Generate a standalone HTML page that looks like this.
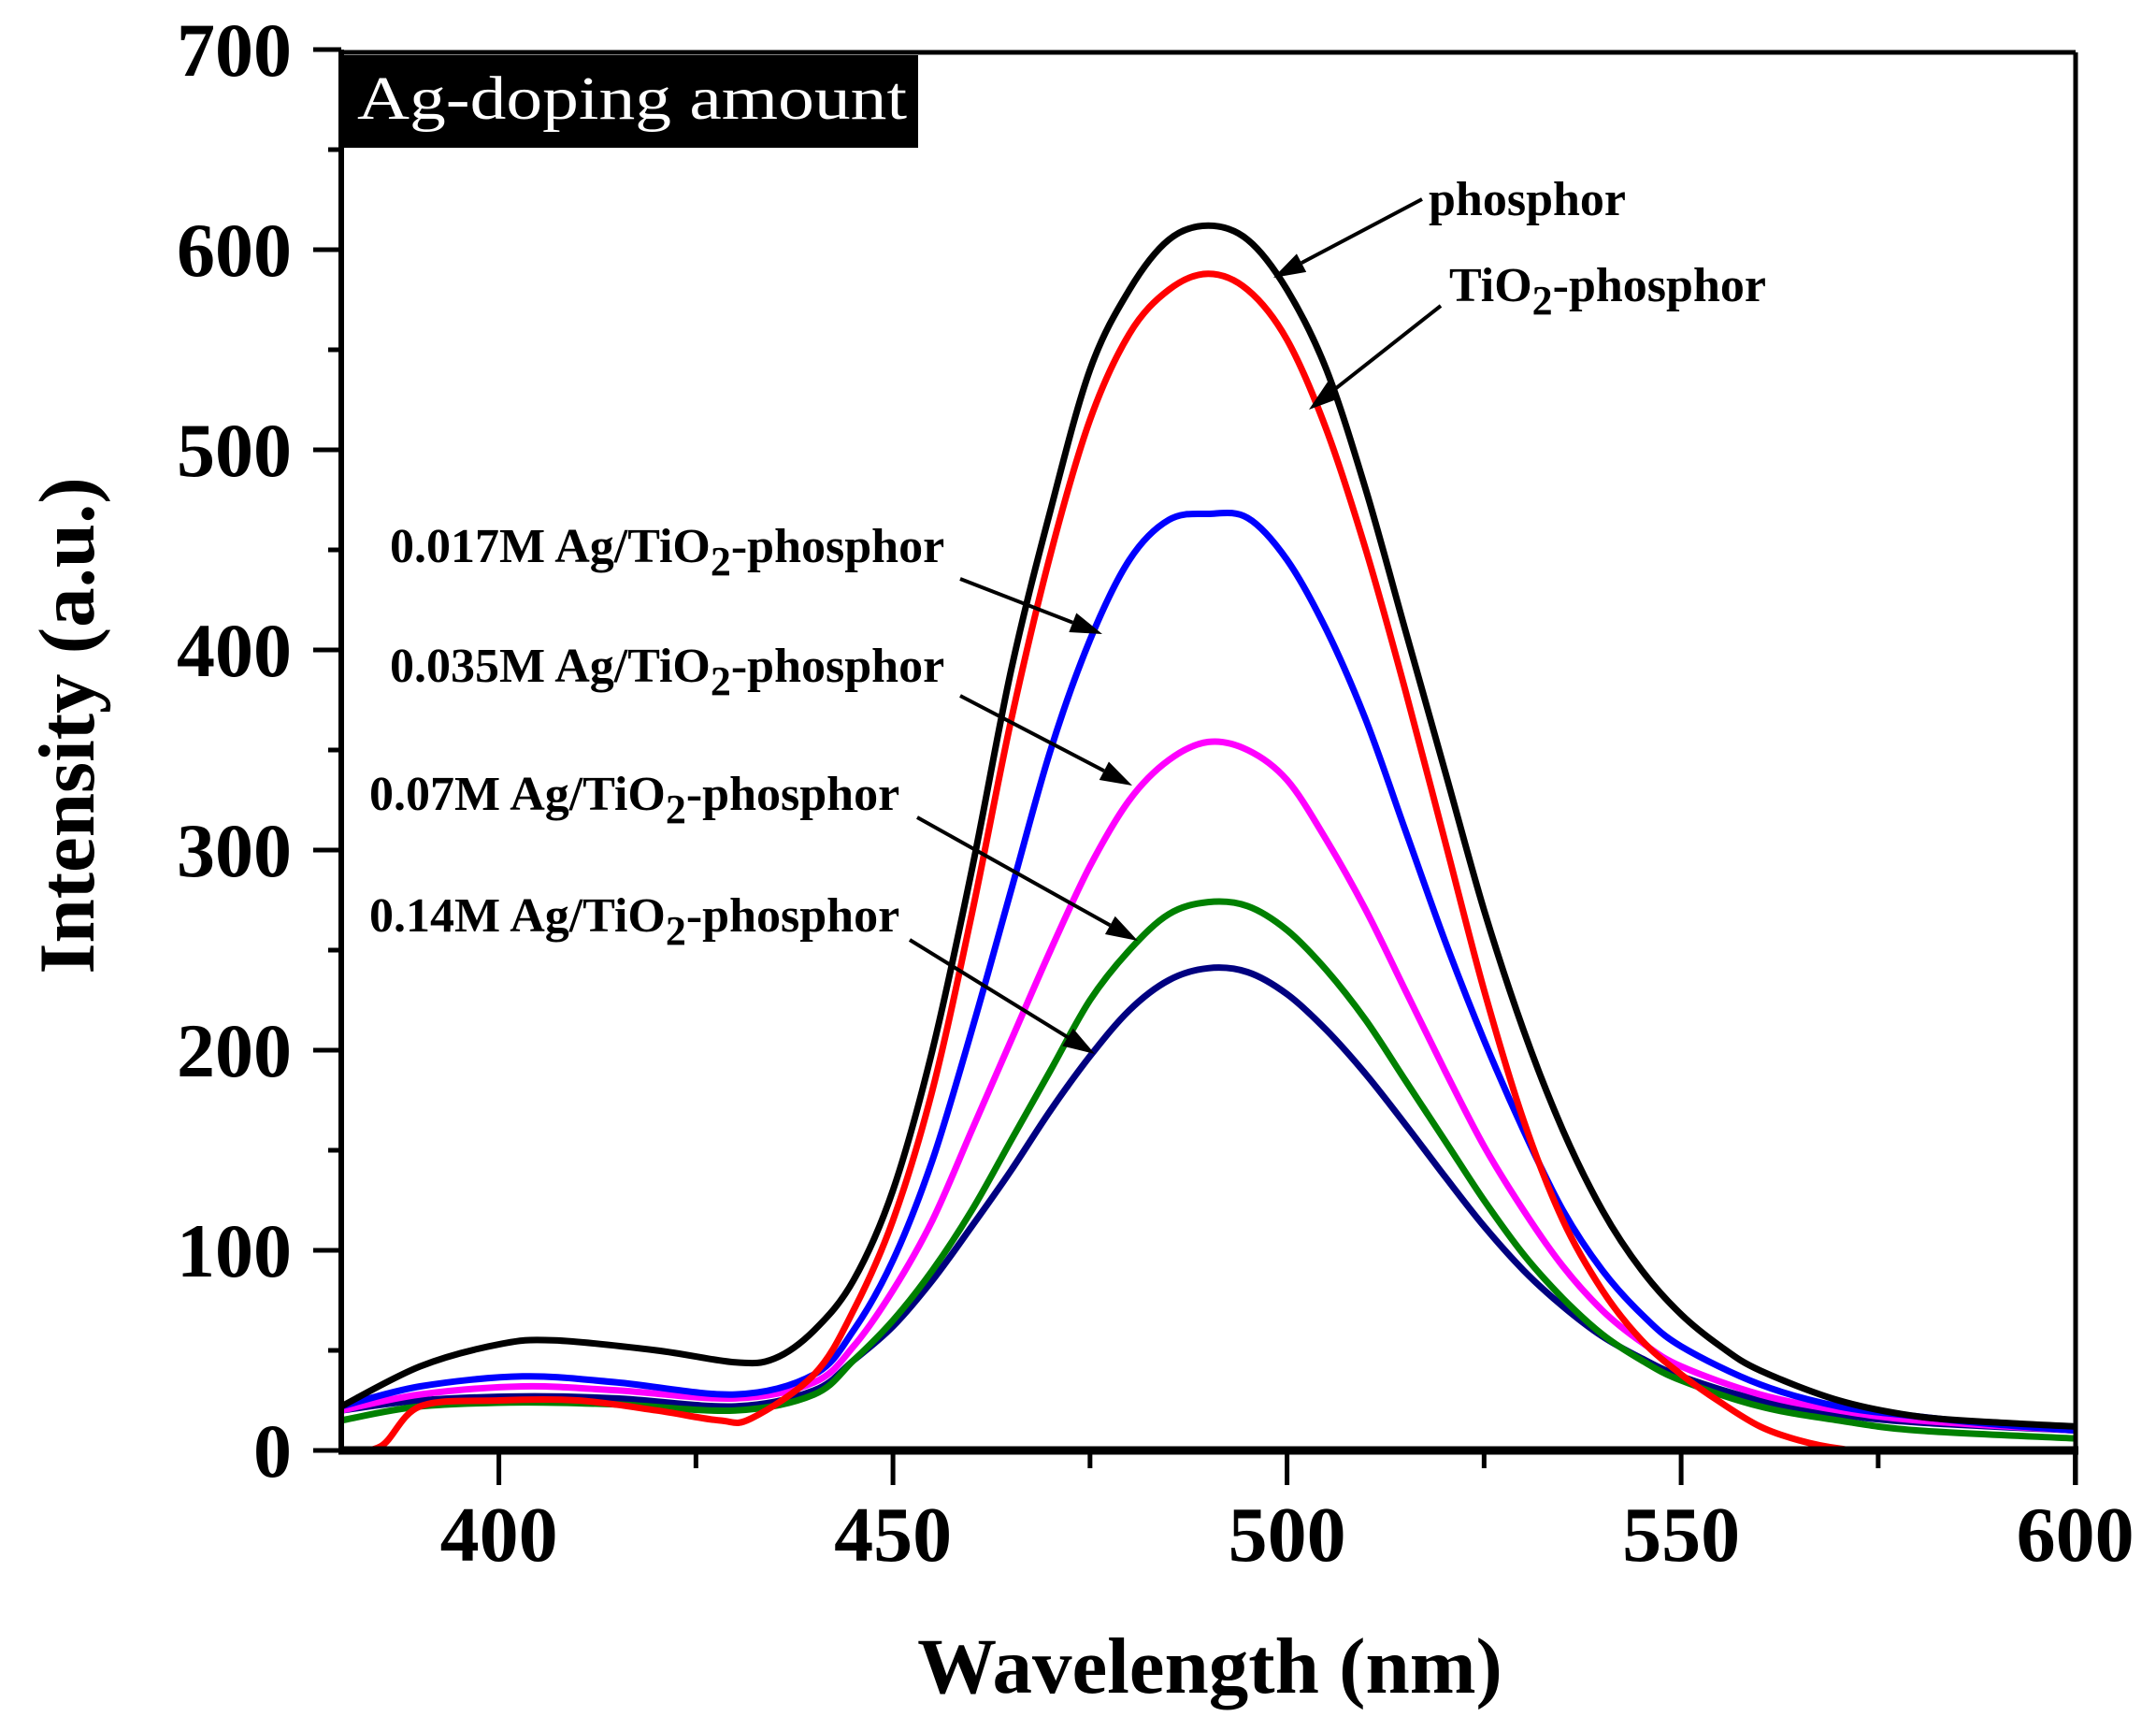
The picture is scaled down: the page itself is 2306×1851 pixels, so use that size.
<!DOCTYPE html>
<html><head><meta charset="utf-8"><style>
html,body{margin:0;padding:0;background:#fff;}
svg{display:block;}
text{font-family:"Liberation Serif",serif;}
</style></head><body>
<svg id="s" width="2306" height="1851" viewBox="0 0 2306 1851" xmlns="http://www.w3.org/2000/svg">
<g id="curves" fill="none" stroke-width="7" stroke-linejoin="round"></g>
<g stroke="#000" fill="none">
<line x1="365" y1="56" x2="2220" y2="56" stroke-width="5"/>
<line x1="2220" y1="56" x2="2220" y2="1588" stroke-width="5"/>
<line x1="365" y1="53" x2="365" y2="1555" stroke-width="6"/>
<line x1="362" y1="1551" x2="2223" y2="1551" stroke-width="9"/>
</g>
<g id="ticks" stroke="#000" stroke-width="5"></g>
<g font-weight="bold" font-size="82" text-anchor="end" id="ylab"></g>
<g font-weight="bold" font-size="84" text-anchor="middle" id="xlab"></g>
<text x="1294" y="1810" font-size="85" font-weight="bold" text-anchor="middle">Wavelength (nm)</text>
<text transform="translate(100,776) rotate(-90)" font-size="85" font-weight="bold" text-anchor="middle">Intensity (a.u.)</text>
<rect x="365" y="59" width="617" height="99" fill="#000"/>
<text x="382" y="127" font-size="66" fill="#fff" textLength="588" lengthAdjust="spacingAndGlyphs">Ag-doping amount</text>
<g font-size="52" font-weight="bold">
<text x="1528" y="230">phosphor</text>
<text x="1550" y="322">TiO<tspan font-size="44" dy="14">2</tspan><tspan dy="-14">-phosphor</tspan></text>
<text x="417" y="601">0.017M Ag/TiO<tspan font-size="44" dy="14">2</tspan><tspan dy="-14">-phosphor</tspan></text>
<text x="417" y="729">0.035M Ag/TiO<tspan font-size="44" dy="14">2</tspan><tspan dy="-14">-phosphor</tspan></text>
<text x="395" y="866">0.07M Ag/TiO<tspan font-size="44" dy="14">2</tspan><tspan dy="-14">-phosphor</tspan></text>
<text x="395" y="996">0.14M Ag/TiO<tspan font-size="44" dy="14">2</tspan><tspan dy="-14">-phosphor</tspan></text>
</g>
<g id="arrows"></g>
</svg>
<script>
var NS="http://www.w3.org/2000/svg";
function X(n){return 365+(n-380)*8.43;}
function Y(v){return 1551-v*2.14;}
function el(t,a,p){var e=document.createElementNS(NS,t);for(var k in a)e.setAttribute(k,a[k]);p.appendChild(e);return e;}
var data={
"#000000":[[380,22],[390,42],[400,53],[407,55],[420,50],[430,44],[435,46],[440,60],[445,85],[450,130],[455,200],[460,290],[465,390],[470,470],[475,540],[480,580],[485,605],[490,612],[495,605],[500,580],[505,540],[510,480],[515,410],[520,340],[525,270],[530,210],[535,160],[540,120],[545,90],[550,68],[555,52],[560,40],[570,25],[580,17],[590,14],[600,12]],
"#ff0000":[[380,0],[385,2],[390,22],[400,25],[410,25],[420,20],[428,15],[432,16],[440,38],[445,70],[450,115],[455,180],[460,268],[465,365],[470,448],[475,515],[480,558],[485,580],[490,588],[495,580],[500,555],[505,510],[510,450],[515,380],[520,305],[525,230],[530,165],[535,115],[540,80],[545,55],[550,38],[555,24],[560,12],[565,5],[570,1],[575,0],[600,0]],
"#0000ff":[[380,22],[390,32],[403,37],[415,34],[430,28],[440,38],[445,60],[450,95],[455,145],[460,210],[465,280],[470,350],[475,405],[480,445],[485,465],[490,468],[495,466],[500,445],[505,410],[510,365],[515,310],[520,255],[525,205],[530,160],[535,120],[540,90],[545,68],[550,52],[560,33],[570,22],[580,17],[590,13],[600,10]],
"#ff00ff":[[380,20],[390,28],[403,32],[415,30],[430,26],[440,34],[445,52],[450,80],[455,115],[460,160],[465,205],[470,250],[475,292],[480,325],[485,345],[490,354],[495,350],[500,335],[505,305],[510,270],[515,230],[520,190],[525,152],[530,120],[535,92],[540,70],[545,54],[550,42],[560,28],[570,20],[580,15],[600,10]],
"#008000":[[380,15],[390,22],[403,24],[415,23],[430,20],[440,28],[445,45],[450,65],[455,90],[460,120],[465,155],[470,190],[475,225],[480,250],[485,268],[490,274],[495,272],[500,260],[505,240],[510,215],[515,185],[520,155],[525,125],[530,98],[535,76],[540,58],[545,45],[550,35],[560,22],[570,15],[580,10],[600,6]],
"#000080":[[380,20],[390,25],[403,27],[415,26],[430,22],[440,30],[445,45],[450,62],[455,85],[460,112],[465,140],[470,170],[475,197],[480,220],[485,235],[490,241],[495,239],[500,228],[505,210],[510,188],[515,163],[520,137],[525,112],[530,90],[535,72],[540,57],[545,46],[550,37],[560,25],[570,18],[580,14],[600,10]]};
var order=["#000080","#008000","#ff00ff","#0000ff","#ff0000","#000000"];
var cg=document.getElementById("curves");
order.forEach(function(c){
 var p=data[c].map(function(q){return [X(q[0]),Y(q[1])];});
 var d="M"+p[0][0]+","+p[0][1];
 for(var i=0;i<p.length-1;i++){
  var p0=p[i>0?i-1:0],p1=p[i],p2=p[i+1],p3=p[i+2<p.length?i+2:i+1];
  var c1=[p1[0]+(p2[0]-p0[0])/6,p1[1]+(p2[1]-p0[1])/6];
  var c2=[p2[0]-(p3[0]-p1[0])/6,p2[1]-(p3[1]-p1[1])/6];
  d+=" C"+c1[0].toFixed(1)+","+c1[1].toFixed(1)+" "+c2[0].toFixed(1)+","+c2[1].toFixed(1)+" "+p2[0].toFixed(1)+","+p2[1].toFixed(1);
 }
 el("path",{d:d,stroke:c},cg);
});
var tg=document.getElementById("ticks"),yl=document.getElementById("ylab"),xl=document.getElementById("xlab");
for(var v=0;v<=700;v+=50){var y=Y(v);var major=v%100==0;
 el("line",{x1:major?335:351,y1:y,x2:365,y2:y},tg);
 if(major){var t=el("text",{x:312,y:y+28},yl);t.textContent=v;}}
for(var n=400;n<=600;n+=25){var x=X(n);var major=n%50==0;
 el("line",{x1:x,y1:1551,x2:x,y2:major?1588:1570},tg);
 if(major){var t=el("text",{x:x,y:1669},xl);t.textContent=n;}}
var ag=document.getElementById("arrows");
[[1521,213,1362,297],[1541,327,1400,438],[1027,619,1179,678],[1027,744,1211,840],[981,874,1217,1006],[973,1005,1171,1127]].forEach(function(a){
 var dx=a[2]-a[0],dy=a[3]-a[1],L=Math.sqrt(dx*dx+dy*dy),ux=dx/L,uy=dy/L;
 var hl=34,hw=11;
 var bx=a[2]-ux*hl,by=a[3]-uy*hl;
 el("line",{x1:a[0],y1:a[1],x2:bx,y2:by,stroke:"#000","stroke-width":4},ag);
 el("polygon",{points:a[2]+","+a[3]+" "+(bx-uy*hw)+","+(by+ux*hw)+" "+(bx+uy*hw)+","+(by-ux*hw),fill:"#000"},ag);
});
</script>
</body></html>
